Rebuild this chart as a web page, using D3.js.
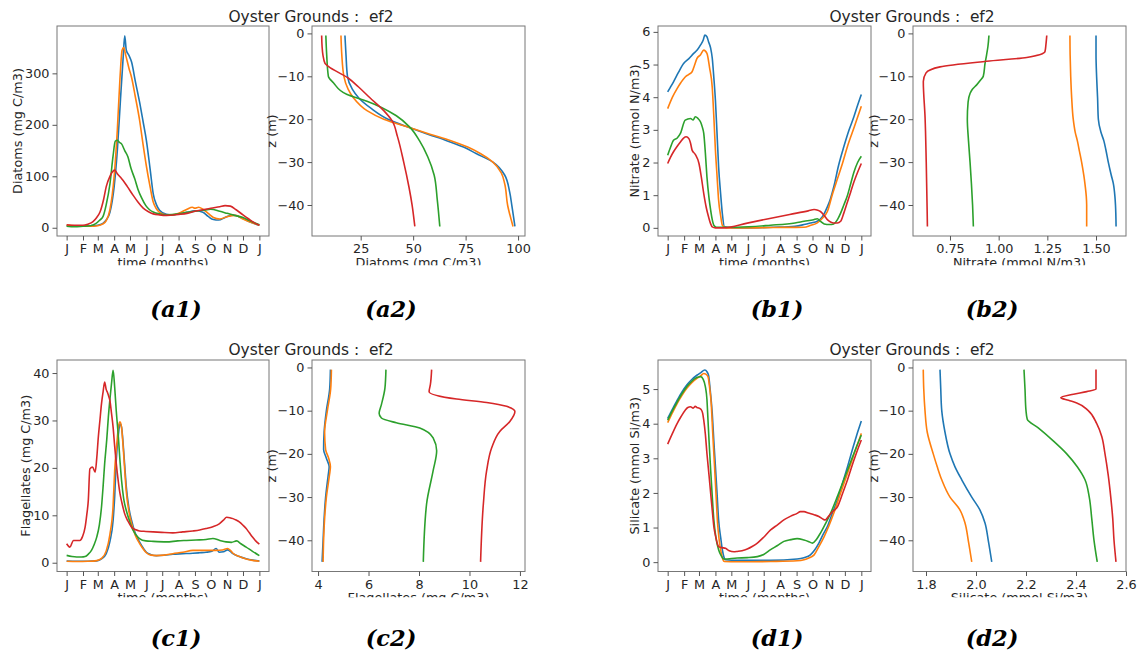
<!DOCTYPE html>
<html><head><meta charset="utf-8">
<script src="https://cdn.jsdelivr.net/npm/d3@7"></script>
<style>body{margin:0;background:#fff} text{font-family:"DejaVu Sans",sans-serif}</style>
</head><body><svg id="c" width="1140" height="661"></svg>
<script>
// ---------- tick labels ----------
const months = ["J","F","M","A","M","J","J","A","S","O","N","D","J"];
const monthDays = [0,31,59,90,120,151,181,212,243,273,304,334,365];
const diatomTicks = [0,100,200,300];
const nitrateTicks = [0,1,2,3,4,5,6];
const flagTicks = [0,10,20,30,40];
const silTicks = [0,1,2,3,4,5];
const depthTicks = [0,-10,-20,-30,-40];
const diatomProfTicks = [25,50,75,100];
const nitrateProfTicks = [0.75,1.00,1.25,1.50];
const flagProfTicks = [4,6,8,10,12];
const silProfTicks = [1.8,2.0,2.2,2.4,2.6];

// ---------- (a1) Diatoms time series [day, value] ----------
const diatomsT_s1 = [[0,4],[15,3],[31,3],[45,4],[59,5],[68,8],[75,15],[82,30],[90,80],[96,150],[102,250],[107,330],[110,373],[113,345],[118,335],[123,322],[130,285],[138,245],[145,205],[151,170],[158,115],[164,66],[170,45],[176,34],[189,26],[200,25],[212,27],[228,30],[243,33],[258,30],[268,22],[278,16],[288,15],[300,20],[315,25],[334,18],[350,10],[365,5]];
const diatomsT_s2 = [[0,5],[15,4],[31,3],[45,3],[59,4],[68,7],[75,14],[82,35],[90,100],[96,190],[101,290],[105,345],[108,350],[112,335],[118,310],[123,292],[130,255],[138,210],[145,160],[151,120],[158,80],[164,50],[170,37],[176,30],[189,25],[200,25],[212,28],[228,36],[238,40],[243,38],[250,40],[258,36],[268,28],[278,20],[290,17],[305,22],[320,24],[334,17],[350,10],[365,5]];
const diatomsT_s3 = [[0,3],[15,2],[31,3],[45,4],[55,8],[63,15],[69,22],[75,45],[82,85],[88,140],[92,168],[96,170],[100,166],[104,163],[110,150],[116,138],[122,115],[129,95],[135,75],[142,58],[150,43],[157,35],[165,30],[176,27],[189,25],[212,27],[228,30],[243,32],[258,34],[273,36],[290,32],[304,28],[318,24],[334,20],[350,12],[365,6]];
const diatomsT_s4 = [[0,6],[15,5],[31,5],[40,7],[50,12],[57,20],[63,30],[70,55],[75,80],[82,100],[88,110],[91,112],[96,105],[102,98],[107,92],[115,80],[126,63],[135,50],[145,38],[155,31],[164,27],[176,25],[189,24],[212,26],[228,28],[243,32],[258,35],[273,38],[290,41],[300,43],[310,42],[321,35],[334,25],[345,17],[355,10],[365,5]];

// ---------- (a2) Diatoms profile [value, z] ----------
const diatomsZ_s1 = [[17.5,-0.5],[18,-5],[18.7,-10],[21,-13],[24,-15],[30,-17.5],[38,-20],[48.5,-22],[57,-23.5],[66,-25],[74,-26.5],[80,-28],[88,-30],[93.6,-33],[96,-37],[97,-40],[98.5,-45]];
const diatomsZ_s2 = [[15.6,-0.5],[16,-5],[17,-10],[19,-13],[21.5,-15],[28,-18],[36,-20],[48.5,-22],[58,-23.5],[68,-25],[76,-26.5],[82,-28],[88,-30],[92,-32.5],[93.6,-35],[95,-40],[97.6,-45]];
const diatomsZ_s3 = [[8.4,-0.5],[8.8,-5],[9.6,-10],[12,-11.5],[18.3,-14.2],[28,-15.8],[42,-19.2],[48.5,-21.9],[53,-25],[57,-28.8],[60,-33],[61.5,-38.8],[62.7,-45]];
const diatomsZ_s4 = [[6.4,-0.5],[6.6,-3],[7,-5],[8,-7],[9.6,-7.7],[19,-10.4],[24,-12.5],[29.4,-15],[36,-18],[40,-20.4],[42.5,-24],[45.5,-30],[48,-35.8],[49.5,-40],[50.8,-45]];

// ---------- (b1) Nitrate time series ----------
const nitrateT_s1 = [[0,4.16],[5,4.3],[11,4.47],[20,4.75],[30,5.03],[40,5.18],[49,5.34],[56,5.45],[62,5.6],[67,5.75],[70,5.9],[74,5.85],[77,5.7],[81,5.5],[84,5.2],[87,4.6],[90,3.9],[93,2.9],[96,1.87],[100,1.0],[103,0.44],[107,0.03],[120,0],[151,0],[200,0.02],[240,0.05],[257,0.1],[270,0.15],[282,0.2],[292,0.35],[301,0.64],[307,0.9],[313,1.25],[322,1.9],[332,2.48],[342,3.0],[351,3.4],[358,3.75],[365,4.08]];
const nitrateT_s2 = [[0,3.65],[9,4.0],[18,4.27],[25,4.45],[33,4.62],[40,4.7],[46,4.78],[50,4.95],[55,5.18],[62,5.3],[68,5.44],[74,5.34],[79,4.9],[84,4.3],[87,3.4],[90,2.38],[93,1.6],[96,0.85],[100,0.35],[103,0.08],[110,0],[151,0],[200,0.01],[257,0.02],[270,0.08],[282,0.15],[292,0.3],[301,0.5],[310,1.0],[320,1.5],[330,2.0],[339,2.5],[352,3.1],[365,3.72]];
const nitrateT_s3 = [[0,2.22],[5,2.45],[11,2.68],[18,2.75],[24,2.89],[33,3.3],[43,3.35],[48,3.3],[52,3.4],[57,3.35],[62,3.24],[65,3.1],[68,2.89],[71,2.3],[74,1.56],[78,0.9],[81,0.54],[84,0.25],[87,0.08],[92,0.02],[131,0.02],[194,0.08],[240,0.15],[257,0.2],[275,0.25],[282,0.28],[288,0.2],[295,0.12],[305,0.1],[313,0.12],[320,0.25],[326,0.45],[332,0.7],[339,1.0],[345,1.35],[351,1.7],[358,2.0],[365,2.19]];
const nitrateT_s4 = [[0,1.97],[5,2.15],[11,2.33],[18,2.5],[24,2.63],[30,2.75],[35,2.79],[40,2.73],[43,2.6],[46,2.38],[52,2.25],[59,1.97],[63,1.6],[68,1.05],[73,0.6],[77,0.34],[81,0.12],[84,0.03],[90,0],[106,0],[150,0.145],[190,0.28],[230,0.41],[265,0.52],[276,0.56],[283,0.54],[288,0.5],[295,0.38],[301,0.25],[307,0.18],[313,0.15],[320,0.15],[326,0.2],[332,0.45],[339,0.8],[345,1.1],[351,1.4],[358,1.7],[365,1.97]];

// ---------- (b2) Nitrate profile ----------
const nitrateZ_s1 = [[1.5,-0.5],[1.5,-5],[1.503,-10],[1.508,-15],[1.512,-20],[1.525,-23],[1.54,-25],[1.55,-27],[1.563,-30],[1.578,-33],[1.589,-35],[1.597,-38],[1.6,-40],[1.603,-45]];
const nitrateZ_s2 = [[1.366,-0.5],[1.367,-5],[1.37,-10],[1.375,-15],[1.383,-20],[1.393,-23],[1.404,-25],[1.415,-27.5],[1.426,-30],[1.437,-33],[1.443,-35],[1.45,-38],[1.452,-40],[1.452,-45]];
const nitrateZ_s3 = [[0.95,-0.5],[0.945,-3],[0.938,-5],[0.93,-7],[0.921,-10],[0.905,-11],[0.887,-12],[0.865,-13],[0.853,-14],[0.843,-16],[0.839,-20],[0.845,-25],[0.853,-30],[0.86,-35],[0.866,-40],[0.87,-45]];
const nitrateZ_s4 = [[1.247,-0.5],[1.243,-2.5],[1.238,-4.2],[1.144,-5.6],[0.938,-6.5],[0.699,-7.8],[0.627,-9.2],[0.613,-11.2],[0.622,-19.6],[0.628,-30],[0.634,-45]];

// ---------- (c1) Flagellates time series ----------
const flagT_s1 = [[0,0.35],[20,0.3],[40,0.3],[57,0.4],[66,0.8],[75,1.9],[82,4.5],[88,8.9],[91,14],[94,21.6],[98,27],[101,29.3],[104,28.6],[107,25.1],[110,20.5],[113,16],[118,11.5],[123,8.9],[130,6.2],[138,4.4],[145,3.1],[151,2.2],[160,1.7],[170,1.5],[185,1.6],[201,1.8],[220,1.9],[239,2.0],[252,2.1],[264,2.2],[275,2.4],[283,3.0],[289,2.2],[297,2.3],[305,2.7],[310,2.4],[315,1.9],[327,1.3],[340,0.84],[352,0.55],[365,0.35]];
const flagT_s2 = [[0,0.3],[20,0.25],[40,0.3],[57,0.45],[66,0.9],[75,2.5],[82,6],[88,12],[91,19.5],[95,25],[98,28.5],[101,29.7],[104,28.5],[107,24.5],[110,19.5],[113,15],[118,10.8],[123,8.3],[130,5.8],[138,4.1],[145,2.9],[151,2.1],[160,1.6],[170,1.5],[185,1.6],[201,1.9],[220,2.2],[239,2.6],[252,2.6],[264,2.6],[275,2.6],[283,2.6],[295,2.7],[305,3.0],[310,2.6],[315,2.0],[327,1.3],[340,0.8],[352,0.5],[365,0.3]];
const flagT_s3 = [[0,1.55],[10,1.3],[19,1.2],[28,1.2],[35,1.3],[41,1.8],[47,2.6],[52,3.8],[57,5.4],[62,8],[66,11.7],[69,16],[72,20.9],[76,26],[79,30.7],[82,34.5],[85,37.8],[88,40.6],[91,37],[94,32],[98,26.5],[101,21.5],[104,17.4],[108,13.5],[113,11],[120,8.5],[126,6.8],[132,5.8],[138,5.1],[150,4.6],[164,4.5],[189,4.4],[210,4.6],[227,4.7],[245,4.8],[264,4.9],[277,5.1],[290,4.7],[302,4.4],[312,4.3],[322,4.6],[330,4.0],[340,3.3],[352,2.4],[365,1.5]];
const flagT_s4 = [[0,4.0],[6,3.3],[13,4.7],[25,4.7],[30,5.5],[35,7.5],[38,10],[41,13.1],[44,19.8],[49,20.2],[54,19.1],[57,22],[60,26.5],[63,30],[66,33.5],[69,36],[72,38.1],[75,36.5],[77,36],[80,35],[82,34.2],[85,31.5],[88,28.6],[91,24.5],[94,20.9],[98,17],[101,14.6],[105,12.5],[110,10.3],[116,8.8],[123,7.5],[130,7],[138,6.7],[150,6.6],[164,6.5],[180,6.4],[201,6.3],[220,6.5],[239,6.7],[252,6.9],[264,7.2],[277,7.6],[289,8.2],[297,9],[303,9.6],[309,9.5],[315,9.3],[321,9],[327,8.6],[334,7.9],[340,7.2],[346,6.3],[352,5.4],[358,4.6],[365,3.9]];

// ---------- (c2) Flagellates profile ----------
const flagZ_s1 = [[4.49,-0.5],[4.46,-5],[4.33,-10],[4.24,-15],[4.22,-19],[4.33,-21],[4.44,-23],[4.4,-25],[4.3,-30],[4.24,-35],[4.2,-40],[4.16,-45]];
const flagZ_s2 = [[4.53,-0.5],[4.5,-5],[4.37,-10],[4.26,-15],[4.3,-19],[4.42,-21],[4.49,-23],[4.45,-25],[4.33,-30],[4.26,-35],[4.22,-40],[4.2,-45]];
const flagZ_s3 = [[6.69,-0.5],[6.65,-4.8],[6.51,-8.6],[6.42,-10.6],[6.51,-11.7],[7.1,-12.8],[8.03,-14],[8.56,-16.3],[8.7,-19.3],[8.56,-23.9],[8.3,-31.6],[8.17,-45]];
const flagZ_s4 = [[8.5,-0.5],[8.45,-4],[8.4,-5.6],[9.49,-7.3],[10.68,-8.1],[11.47,-9],[11.8,-10.2],[11.6,-12.5],[11.2,-14.8],[10.88,-18.6],[10.68,-23.9],[10.55,-31.6],[10.44,-45]];

// ---------- (d1) Silicate time series ----------
const silT_s1 = [[0,4.15],[9,4.42],[18,4.68],[27,4.92],[36,5.12],[45,5.27],[55,5.4],[62,5.47],[70,5.55],[74,5.5],[77,5.4],[80,5.0],[84,4.3],[87,3.5],[90,2.76],[93,2.0],[96,1.22],[100,0.7],[103,0.36],[106,0.15],[109,0.07],[131,0.05],[194,0.05],[244,0.09],[257,0.13],[269,0.21],[277,0.35],[285,0.55],[293,0.8],[301,1.03],[310,1.4],[320,1.8],[330,2.3],[339,2.76],[350,3.35],[358,3.75],[365,4.08]];
const silT_s2 = [[0,4.03],[9,4.32],[18,4.59],[27,4.82],[36,5.02],[45,5.18],[55,5.31],[62,5.38],[68,5.45],[72,5.43],[76,5.36],[79,5.05],[82,4.59],[85,3.7],[88,2.86],[91,2.0],[94,1.13],[97,0.65],[101,0.26],[104,0.08],[107,0.02],[131,0.01],[194,0.02],[244,0.04],[257,0.07],[266,0.12],[276,0.21],[285,0.45],[295,0.74],[304,1.05],[313,1.41],[326,2.0],[339,2.57],[352,3.15],[365,3.72]];
const silT_s3 = [[0,4.1],[9,4.38],[18,4.63],[27,4.87],[36,5.07],[45,5.22],[52,5.31],[58,5.35],[62,5.36],[67,5.28],[71,5.07],[74,4.7],[76,4.1],[78,3.5],[81,2.66],[84,1.9],[87,1.22],[91,0.7],[96,0.36],[101,0.18],[106,0.09],[131,0.12],[150,0.13],[169,0.16],[181,0.22],[194,0.36],[207,0.48],[219,0.6],[232,0.65],[244,0.68],[257,0.64],[265,0.6],[273,0.55],[280,0.65],[288,0.84],[297,1.1],[307,1.41],[320,1.9],[332,2.38],[345,2.9],[355,3.3],[365,3.67]];
const silT_s4 = [[0,3.41],[9,3.72],[18,4.01],[25,4.2],[33,4.39],[38,4.47],[43,4.49],[48,4.45],[52,4.5],[55,4.47],[59,4.45],[63,4.41],[66,4.3],[68,4.1],[71,3.7],[74,3.14],[78,2.5],[81,1.99],[84,1.5],[87,1.03],[91,0.7],[96,0.45],[102,0.42],[109,0.4],[116,0.33],[125,0.3],[131,0.31],[140,0.33],[150,0.38],[160,0.46],[169,0.55],[181,0.72],[194,0.93],[207,1.08],[219,1.22],[232,1.33],[244,1.41],[250,1.46],[257,1.46],[265,1.42],[276,1.37],[285,1.32],[292,1.25],[297,1.22],[302,1.3],[310,1.45],[320,1.6],[330,2.0],[339,2.38],[350,2.9],[358,3.25],[365,3.53]];

// ---------- (d2) Silicate profile ----------
const silZ_s1 = [[1.856,-0.5],[1.859,-5],[1.863,-10],[1.876,-15],[1.896,-20],[1.916,-23],[1.943,-26],[1.983,-30],[2.016,-33],[2.036,-36],[2.049,-40],[2.063,-45]];
const silZ_s2 = [[1.789,-0.5],[1.791,-5],[1.796,-10],[1.805,-15],[1.829,-20],[1.845,-23],[1.863,-26],[1.896,-30],[1.936,-33],[1.956,-36],[1.969,-40],[1.983,-45]];
const silZ_s3 = [[2.192,-0.5],[2.196,-5],[2.2,-10],[2.205,-12],[2.249,-14],[2.309,-17],[2.363,-20],[2.405,-23],[2.436,-26],[2.453,-30],[2.463,-35],[2.472,-40],[2.485,-45]];
const silZ_s4 = [[2.48,-0.5],[2.48,-5],[2.443,-5.6],[2.39,-6.2],[2.339,-7],[2.37,-7.6],[2.403,-8.2],[2.449,-10],[2.483,-13],[2.503,-16],[2.516,-20],[2.529,-25],[2.539,-30],[2.547,-35],[2.552,-40],[2.56,-45]];

// ---------- drawing ----------
const colors = ["#1f77b4","#ff7f0e","#2ca02c","#d62728"];
const svg = d3.select("#c");
const FS = 12.8;   // axis label size
const TFS = 12.8;  // tick label size
const defs = svg.append("defs");
defs.append("clipPath").attr("id","clipTop").append("rect").attr("x",0).attr("y",0).attr("width",1140).attr("height",265.3);
defs.append("clipPath").attr("id","clipBot").append("rect").attr("x",0).attr("y",290).attr("width",1140).attr("height",307.3);
const rowTop = svg.append("g").attr("clip-path","url(#clipTop)");
const rowBot = svg.append("g").attr("clip-path","url(#clipBot)");

const COLS = [[57,269],[312,525],[658,871],[913,1126]];
const ROWS = [[26,236],[360,571.5]];

function styleAxis(ax){
  ax.attr("font-size",TFS).attr("font-family","DejaVu Sans");
  ax.select(".domain").remove();
  ax.selectAll(".tick line").attr("stroke","#555").attr("stroke-width",1);
  ax.selectAll(".tick text").attr("fill","#262626").attr("font-size",TFS).style("font-size",TFS+"px");
}
function frame(g,x0,x1,y0,y1){
  g.append("rect").attr("x",x0).attr("y",y0).attr("width",x1-x0).attr("height",y1-y0)
   .attr("fill","none").attr("stroke","#777").attr("stroke-width",1);
}
function labels(g,x0,x1,y0,y1,xlabel,ylabel,ylx){
  g.append("text").attr("x",(x0+x1)/2).attr("y",y1+30.5).attr("text-anchor","middle")
   .style("font-size",FS+"px").attr("fill","#262626").text(xlabel);
  g.append("text").attr("transform",`translate(${ylx},${(y0+y1)/2}) rotate(-90)`).attr("text-anchor","middle")
   .attr("dy","0.35em").style("font-size",FS+"px").attr("fill","#262626").text(ylabel);
}
function timePanel(g,col,row,yDom,yTicks,series,ylabel,ylx){
  const [x0,x1]=COLS[col],[y0,y1]=ROWS[row];
  const x=d3.scaleLinear().domain([-18.25,383.25]).range([x0,x1]);
  const y=d3.scaleLinear().domain(yDom).range([y1,y0]);
  const line=d3.line().x(d=>x(d[0])).y(d=>y(d[1])).curve(d3.curveMonotoneX);
  series.forEach((s,i)=>g.append("path").datum(s).attr("d",line).attr("fill","none")
     .attr("stroke",colors[i]).attr("stroke-width",1.6).attr("stroke-linejoin","round"));
  frame(g,x0,x1,y0,y1);
  const ax=g.append("g").attr("transform",`translate(0,${y1})`)
    .call(d3.axisBottom(x).tickValues(monthDays).tickFormat((d,i)=>months[i]).tickSize(4.5).tickPadding(3.5));
  styleAxis(ax);
  const ay=g.append("g").attr("transform",`translate(${x0},0)`)
    .call(d3.axisLeft(y).tickValues(yTicks).tickFormat(d3.format("d")).tickSize(4.5).tickPadding(3));
  styleAxis(ay);
  labels(g,x0,x1,y0,y1,"time (months)",ylabel,ylx);
}
function profPanel(g,col,row,xDom,xTicks,fmt,series,xlabel,ylx){
  const [x0,x1]=COLS[col],[y0,y1]=ROWS[row];
  const x=d3.scaleLinear().domain(xDom).range([x0,x1]);
  const y=d3.scaleLinear().domain([-47.225,1.725]).range([y1,y0]);
  const line=d3.line().x(d=>x(d[0])).y(d=>y(d[1])).curve(d3.curveMonotoneY);
  series.forEach((s,i)=>g.append("path").datum(s).attr("d",line).attr("fill","none")
     .attr("stroke",colors[i]).attr("stroke-width",1.6).attr("stroke-linejoin","round"));
  frame(g,x0,x1,y0,y1);
  const ax=g.append("g").attr("transform",`translate(0,${y1})`)
    .call(d3.axisBottom(x).tickValues(xTicks).tickFormat(d3.format(fmt)).tickSize(4.5).tickPadding(3.5));
  styleAxis(ax);
  const ay=g.append("g").attr("transform",`translate(${x0},0)`)
    .call(d3.axisLeft(y).tickValues(depthTicks).tickFormat(d3.format("d")).tickSize(4.5).tickPadding(3));
  styleAxis(ay);
  labels(g,x0,x1,y0,y1,xlabel,"z (m)",ylx);
}

timePanel(rowTop,0,0,[-16,392],diatomTicks,[diatomsT_s1,diatomsT_s2,diatomsT_s3,diatomsT_s4],"Diatoms (mg C/m3)",18);
profPanel(rowTop,1,0,[1.8,103.3],diatomProfTicks,"d",[diatomsZ_s1,diatomsZ_s2,diatomsZ_s3,diatomsZ_s4],"Diatoms (mg C/m3)",272);
timePanel(rowTop,2,0,[-0.25,6.18],nitrateTicks,[nitrateT_s1,nitrateT_s2,nitrateT_s3,nitrateT_s4],"Nitrate (mmol N/m3)",635);
profPanel(rowTop,3,0,[0.56,1.654],nitrateProfTicks,".2f",[nitrateZ_s1,nitrateZ_s2,nitrateZ_s3,nitrateZ_s4],"Nitrate (mmol N/m3)",874);
timePanel(rowBot,0,1,[-1.85,42.75],flagTicks,[flagT_s1,flagT_s2,flagT_s3,flagT_s4],"Flagellates (mg C/m3)",26);
profPanel(rowBot,1,1,[3.76,12.2],flagProfTicks,"d",[flagZ_s1,flagZ_s2,flagZ_s3,flagZ_s4],"Flagellates (mg C/m3)",272);
timePanel(rowBot,2,1,[-0.27,5.84],silTicks,[silT_s1,silT_s2,silT_s3,silT_s4],"Silicate (mmol Si/m3)",635);
profPanel(rowBot,3,1,[1.748,2.6],silProfTicks,".1f",[silZ_s1,silZ_s2,silZ_s3,silZ_s4],"Silicate (mmol Si/m3)",874);

// titles
const titles = [[311,21.7],[912,21.7],[311,355],[912,355]];
titles.forEach(t=>svg.append("text").attr("x",t[0]).attr("y",t[1]).attr("text-anchor","middle")
  .style("font-size","15.4px").attr("fill","#262626").style("white-space","pre").text("Oyster Grounds :  ef2"));

// panel labels
const panelLabels = [["(a1)",176,317],["(a2)",391,317],["(b1)",777,317],["(b2)",992,317],
                     ["(c1)",176,646],["(c2)",391,646],["(d1)",777,646],["(d2)",992,646]];
panelLabels.forEach(p=>svg.append("text").attr("x",p[1]).attr("y",p[2]).attr("text-anchor","middle")
  .style("font-family","'DejaVu Serif',serif").style("font-weight","bold").style("font-style","italic")
  .style("font-size","22.5px").attr("fill","#000").text(p[0]));
</script></body></html>
